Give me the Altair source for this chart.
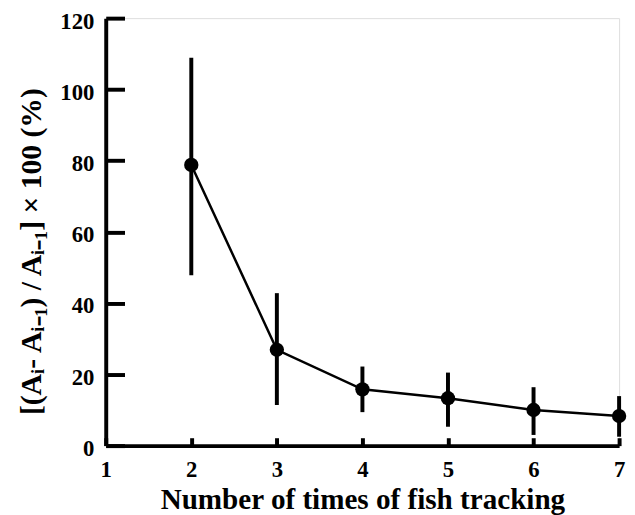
import altair as alt
import pandas as pd

trials = [2, 3, 4, 5, 6, 7]
mean_pct = [78.8, 26.9, 15.8, 13.3, 10.0, 8.3]
upper_pct = [108.9, 42.8, 22.2, 20.5, 16.4, 13.9]
lower_pct = [47.8, 11.4, 9.4, 5.3, 3.0, 2.5]

x_ticks = [1, 2, 3, 4, 5, 6, 7]
y_ticks = [0, 20, 40, 60, 80, 100, 120]

df = pd.DataFrame({"n": trials, "m": mean_pct, "hi": upper_pct, "lo": lower_pct})

FONT = "Liberation Serif"
W, H = 520, 433

xs = alt.Scale(domain=[1, 7], nice=False, zero=False)
ys = alt.Scale(domain=[0, 120], nice=False)

x_main = alt.X("n:Q", scale=xs, title="Number of times of fish tracking",
               axis=alt.Axis(values=x_ticks, format="d", grid=False, ticks=False,
                             domainColor="black", domainWidth=4, labelPadding=13,
                             labelFont=FONT, labelFontWeight="bold", labelFontSize=23,
                             labelColor="black", titleFont=FONT, titleFontWeight="bold",
                             titleFontSize=29.5, titleColor="black", titlePadding=5,
                             labelFlush=False))
y_main = alt.Y("m:Q", scale=ys, title="[(Aᵢ- Aᵢ₋₁) / Aᵢ₋₁] × 100 (%)",
               axis=alt.Axis(values=y_ticks, grid=False, ticks=False,
                             domainColor="black", domainWidth=4, labelPadding=12,
                             labelOffset=3,
                             labelFont=FONT, labelFontWeight="bold", labelFontSize=23,
                             labelColor="black", titleFont=FONT, titleFontWeight="bold",
                             titleFontSize=30, titleColor="black", titlePadding=14,
                             titleY=236, labelFlush=False))

errs = alt.Chart(df).mark_rule(color="black", strokeWidth=4).encode(
    x=alt.X("n:Q", scale=xs, axis=None),
    y=alt.Y("lo:Q", scale=ys, axis=None), y2="hi:Q")

line = alt.Chart(df).mark_line(color="black", strokeWidth=2.5).encode(
    x=x_main, y=y_main)

pts = alt.Chart(df).mark_point(filled=True, color="black", size=210, opacity=1).encode(
    x=alt.X("n:Q", scale=xs, axis=None), y=alt.Y("m:Q", scale=ys, axis=None))

# inward ticks via mirrored axes
tick_layer = alt.Chart(df).mark_point(opacity=0).encode(
    x=alt.X("n:Q", scale=xs, axis=alt.Axis(orient="top", offset=-H, values=x_ticks,
                                           labels=False, domain=False, grid=False,
                                           tickSize=8, tickWidth=4, tickColor="black",
                                           title=None)),
    y=alt.Y("m:Q", scale=ys, axis=alt.Axis(orient="right", offset=-W, values=y_ticks,
                                           labels=False, domain=False, grid=False,
                                           tickSize=19, tickWidth=4, tickColor="black",
                                           title=None)))

chart = alt.layer(line, errs, pts, tick_layer).resolve_axis(
    x="independent", y="independent"
).properties(
    width=W, height=H,
    autosize=alt.AutoSizeParams(type="none"),
    padding={"left": 99, "top": 7, "right": 8, "bottom": 67},
).configure_view(stroke=None).configure(background="white")

chart.save("out.html", embed_options={"renderer": "svg", "actions": False})
